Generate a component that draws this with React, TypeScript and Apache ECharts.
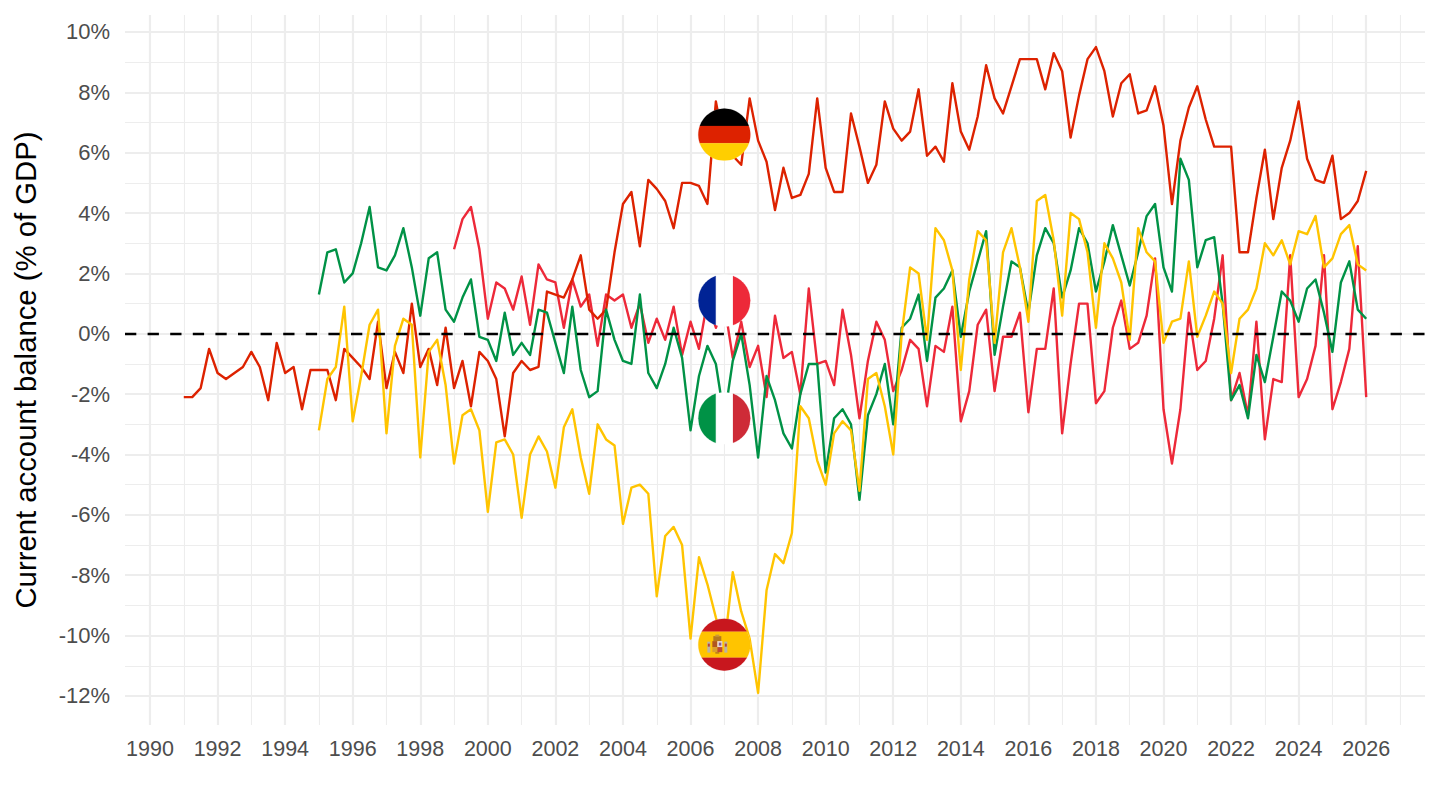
import { useRef, useEffect } from 'react'
import * as echarts from 'echarts'

// quarterly readings, one row per year
const GERMANY_START = 1991
const germany = [
  -2.1, -2.1, -1.8, -0.5,
  -1.3, -1.5, -1.3, -1.1,
  -0.6, -1.1, -2.2, -0.3,
  -1.3, -1.1, -2.5, -1.2,
  -1.2, -1.2, -2.2, -0.5,
  -0.8, -1.1, -1.5, 0.4,
  -1.8, -0.6, -1.3, 1.0,
  -1.1, -0.5, -1.7, 0.2,
  -1.8, -0.9, -2.4, -0.6,
  -0.9, -1.5, -3.4, -1.3,
  -0.9, -1.2, -1.1, 1.4,
  1.3, 1.2, 1.8, 2.6,
  0.8, 0.5, 0.8, 2.7,
  4.3, 4.7, 2.9, 5.1,
  4.8, 4.4, 3.5, 5.0,
  5.0, 4.9, 4.3, 7.7,
  6.2, 5.9, 5.6, 7.8,
  6.4, 5.7, 4.1, 5.5,
  4.5, 4.6, 5.3, 7.8,
  5.5, 4.7, 4.7, 7.3,
  6.2, 5.0, 5.6, 7.7,
  6.8, 6.4, 6.7, 8.1,
  5.9, 6.2, 5.7, 8.3,
  6.7, 6.1, 7.2, 8.9,
  7.8, 7.3, 8.2, 9.1,
  9.1, 9.1, 8.1, 9.3,
  8.7, 6.5, 7.9, 9.1,
  9.5, 8.7, 7.2, 8.3,
  8.6, 7.3, 7.4, 8.2,
  6.9, 4.3, 6.4, 7.5,
  8.2, 7.1, 6.2, 6.2,
  6.2, 2.7, 2.7, 4.5,
  6.1, 3.8, 5.5, 6.4,
  7.7, 5.8, 5.1, 5.0,
  5.9, 3.8, 4.0, 4.4,
  5.4,
]

const ITALY_START = 1995
const italy = [
  1.3, 2.7, 2.8, 1.7,
  2.0, 3.0, 4.2, 2.2,
  2.1, 2.6, 3.5, 2.2,
  0.6, 2.5, 2.7, 0.8,
  0.4, 1.2, 1.8, -0.1,
  -0.2, -0.9, 0.7, -0.7,
  -0.3, -0.7, 0.8, 0.7,
  -0.3, -1.3, 0.9, -1.2,
  -2.1, -1.9, 0.8, -0.2,
  -0.9, -1.0, 1.3, -1.3,
  -1.8, -1.0, 0.2, -0.8,
  -3.2, -1.4, -0.4, -1.0,
  -2.8, -0.9, 0.0, -1.7,
  -4.1, -1.4, -2.2, -3.3,
  -3.8, -2.0, -1.0, -1.0,
  -4.6, -2.8, -2.5, -3.0,
  -5.5, -2.7, -2.0, -1.0,
  -3.0, 0.2, 0.5, 1.3,
  -0.9, 1.2, 1.5, 2.1,
  -0.1, 1.4, 2.4, 3.4,
  -0.7, 0.9, 2.4, 2.2,
  0.7, 2.6, 3.5, 3.0,
  1.2, 2.1, 3.5, 3.0,
  1.4, 2.4, 3.6, 2.6,
  1.6, 2.7, 3.9, 4.3,
  2.2, 1.4, 5.8, 5.1,
  2.2, 3.1, 3.2, 1.0,
  -2.2, -1.7, -2.8, -0.7,
  -1.6, -0.1, 1.4, 1.1,
  0.4, 1.5, 1.8, 0.7,
  -0.6, 1.7, 2.4, 0.8,
  0.5,
]

const SPAIN_START = 1995
const spain = [
  -3.2, -1.5, -1.1, 0.9,
  -2.9, -1.4, 0.3, 0.8,
  -3.3, -0.4, 0.5, 0.3,
  -4.1, -0.6, -0.2, -1.7,
  -4.3, -2.7, -2.5, -3.2,
  -5.9, -3.6, -3.5, -4.0,
  -6.1, -4.0, -3.4, -3.9,
  -5.1, -3.1, -2.5, -4.1,
  -5.3, -3.0, -3.5, -3.7,
  -6.3, -5.1, -5.0, -5.3,
  -8.7, -6.7, -6.4, -7.0,
  -10.1, -7.4, -8.3, -9.4,
  -10.4, -7.9, -9.2, -10.1,
  -11.9, -8.5, -7.3, -7.6,
  -6.6, -2.4, -2.8, -4.2,
  -5.0, -3.3, -2.9, -3.2,
  -5.2, -1.5, -1.3, -2.4,
  -4.0, 0.0, 2.2, 2.0,
  -0.2, 3.5, 3.1, 2.1,
  -1.2, 1.8, 3.4, 3.1,
  -0.3, 2.7, 3.5, 2.2,
  0.4, 4.4, 4.6, 3.1,
  0.6, 4.0, 3.8, 2.7,
  0.2, 3.0, 2.5, 1.7,
  -0.2, 3.5, 2.7, 2.4,
  -0.3, 0.4, 0.5, 2.4,
  -0.1, 0.6, 1.4, 1.0,
  -1.3, 0.5, 0.8, 1.5,
  3.0, 2.6, 3.1, 2.3,
  3.4, 3.3, 3.9, 2.2,
  2.5, 3.3, 3.6, 2.3,
  2.1,
]

const FRANCE_START = 1999
const france = [
  2.8, 3.8, 4.2, 2.8,
  0.5, 1.7, 1.5, 0.8,
  1.9, 0.3, 2.3, 1.8,
  1.7, 0.2, 1.8, 0.9,
  1.3, -0.4, 1.3, 1.1,
  1.3, 0.2, 1.0, -0.3,
  0.5, -0.2, 0.9, -0.7,
  0.4, -0.5, 1.1, 0.2,
  1.0, -0.8, 0.4, -1.1,
  -0.4, -2.1, 0.6, -0.8,
  -0.6, -2.0, 1.5, -1.0,
  -0.9, -1.7, 0.8, -0.7,
  -2.8, -0.9, 0.4, -0.2,
  -1.9, -1.2, -0.2, -0.5,
  -2.4, -0.4, -0.6, 0.9,
  -2.9, -1.9, 0.3, 0.8,
  -1.9, -0.1, -0.1, 0.7,
  -2.6, -0.5, -0.5, 1.5,
  -3.3, -1.0, 1.0, 1.0,
  -2.3, -1.9, 0.2, 1.1,
  -0.5, -0.3, 0.6, 2.5,
  -2.5, -4.3, -2.5, 0.7,
  -1.2, -0.9, 0.5, 2.6,
  -2.2, -1.3, -2.7, 0.4,
  -3.5, -1.5, -1.6, 2.6,
  -2.1, -1.5, -0.4, 2.6,
  -2.5, -1.6, -0.5, 2.9,
  -2.1,
]

const yearTicks = [1990, 1992, 1994, 1996, 1998, 2000, 2002, 2004, 2006, 2008, 2010, 2012, 2014, 2016, 2018, 2020, 2022, 2024, 2026]
const yearMinor = [1991, 1993, 1995, 1997, 1999, 2001, 2003, 2005, 2007, 2009, 2011, 2013, 2015, 2017, 2019, 2021, 2023, 2025, 2027]
const pctTicks = [-12, -10, -8, -6, -4, -2, 0, 2, 4, 6, 8, 10]
const pctMinor = [-11, -9, -7, -5, -3, -1, 1, 3, 5, 7, 9]

const flagNames = ['germany', 'france', 'italy', 'spain']
const flagYear = 2007
const flagValues = [6.6, 1.1, -2.8, -10.3]

const FONT = '"Liberation Sans", Arial, sans-serif'
const GRID_COLOR = '#EDEDED'
const FLAG_R = 26

const toPoints = (start: number, values: number[]) =>
  values.map((v, i) => [start + i / 4, v])

// a slice of the flag disc between two offsets, as a polygon
function band(a: number, b: number, vertical = false) {
  const r = FLAG_R
  const pts: number[][] = []
  const steps = 24
  for (let i = 0; i <= steps; i++) {
    const t = a + ((b - a) * i) / steps
    pts.push([-Math.sqrt(Math.max(r * r - t * t, 0)), t])
  }
  for (let i = steps; i >= 0; i--) {
    const t = a + ((b - a) * i) / steps
    pts.push([Math.sqrt(Math.max(r * r - t * t, 0)), t])
  }
  return vertical ? pts.map(([x, y]) => [y, x]) : pts
}

const poly = (points: number[][], fill: string) => ({
  type: 'polygon',
  shape: { points },
  style: { fill, stroke: fill, lineWidth: 0.2 },
})

const box = (x: number, y: number, width: number, height: number, fill: string) => ({
  type: 'rect',
  shape: { x, y, width, height },
  style: { fill },
})

function flagShapes(name: string) {
  const r = FLAG_R
  const third = r / 3
  if (name === 'germany') {
    return [
      poly(band(-r, -third), '#000000'),
      poly(band(-third, third), '#DD2200'),
      poly(band(third, r), '#FFCE00'),
    ]
  }
  if (name === 'france') {
    return [
      poly(band(-r, -third, true), '#002395'),
      poly(band(third, r, true), '#ED2939'),
    ]
  }
  if (name === 'italy') {
    return [
      poly(band(-r, -third, true), '#009246'),
      poly(band(third, r, true), '#CE2B37'),
    ]
  }
  // spain, with a small coat of arms left of centre
  return [
    poly(band(-r, -r / 2), '#C8171E'),
    poly(band(-r / 2, r / 2), '#FFC400'),
    poly(band(r / 2, r), '#C8171E'),
    // pillars
    box(-17, -3, 3, 11, '#B9B4A8'),
    box(0, -3, 3, 11, '#B9B4A8'),
    box(-16.5, -1, 2, 3, '#B8433A'),
    box(0.5, -1, 2, 3, '#B8433A'),
    // crown
    box(-11, -8.5, 8, 5, '#B5791E'),
    box(-9, -10, 4, 2, '#C9973A'),
    // shield
    box(-12, -3.5, 5, 6, '#B0561F'),
    box(-7, -3.5, 5, 6, '#E6D6DC'),
    box(-5.5, -2, 2.5, 3, '#8E5C8E'),
    box(-12, 2.5, 5, 5, '#D9A02E'),
    box(-7, 2.5, 5, 5, '#BE4A32'),
    box(-9, 7.5, 4, 1.5, '#B5791E'),
  ]
}

const gridLines = (axis: 'xAxis' | 'yAxis', values: number[], width: number, name: string) => ({
  name,
  type: 'line',
  data: [],
  z: 1,
  silent: true,
  markLine: {
    z: 1,
    silent: true,
    animation: false,
    symbol: 'none',
    label: { show: false },
    lineStyle: { color: GRID_COLOR, width, type: 'solid' },
    data: values.map((v) => ({ [axis]: v })),
  },
})

const country = (name: string, start: number, values: number[], color: string, z: number) => ({
  name,
  type: 'line',
  data: toPoints(start, values),
  symbol: 'none',
  z,
  lineStyle: { color, width: 2.4, join: 'round' },
  itemStyle: { color },
})

export default function App() {
  const chartRef = useRef<HTMLDivElement>(null)

  useEffect(() => {
    if (!chartRef.current) return
    const chart = echarts.init(chartRef.current, undefined, { renderer: 'svg' })

    const option = {
      animation: false,
      backgroundColor: '#ffffff',
      grid: { left: 125, right: 15, top: 15, bottom: 85, outerBoundsMode: 'none' },
      xAxis: {
        type: 'value',
        min: 1989.26,
        max: 2027.74,
        splitLine: { show: false },
        axisLine: { show: false },
        axisTick: { show: false },
        axisLabel: {
          customValues: yearTicks,
          formatter: (v: number) => String(v),
          fontFamily: FONT,
          fontSize: 21.5,
          color: '#4D4D4D',
          margin: 13,
        },
      },
      yAxis: {
        type: 'value',
        min: -12.963,
        max: 10.563,
        name: 'Current account balance (% of GDP)',
        nameLocation: 'middle',
        nameRotate: 90,
        nameGap: 85,
        nameTextStyle: { fontFamily: FONT, fontSize: 29.3, color: '#000000' },
        splitLine: { show: false },
        axisLine: { show: false },
        axisTick: { show: false },
        axisLabel: {
          customValues: pctTicks,
          formatter: (v: number) => `${v}%`,
          fontFamily: FONT,
          fontSize: 22,
          color: '#4D4D4D',
          margin: 15,
          padding: [3, 0, 0, 0],
        },
      },
      series: [
        gridLines('xAxis', yearMinor, 1.1, 'year minor'),
        gridLines('yAxis', pctMinor, 1.1, 'pct minor'),
        gridLines('xAxis', yearTicks, 2.2, 'year major'),
        gridLines('yAxis', pctTicks, 2.2, 'pct major'),
        country('France', FRANCE_START, france, '#ED2939', 10),
        country('Germany', GERMANY_START, germany, '#DD2200', 11),
        country('Italy', ITALY_START, italy, '#009246', 12),
        country('Spain', SPAIN_START, spain, '#FFC400', 13),
        {
          name: 'zero',
          type: 'line',
          data: [],
          z: 20,
          silent: true,
          markLine: {
            z: 20,
            silent: true,
            animation: false,
            symbol: 'none',
            label: { show: false },
            lineStyle: { color: '#000000', width: 2.4, type: [11.3, 11.3] },
            data: [{ yAxis: 0 }],
          },
        },
        {
          name: 'flags',
          type: 'custom',
          z: 30,
          silent: true,
          data: flagValues.map((v) => [flagYear, v]),
          encode: { x: 0, y: 1 },
          renderItem: (params: any, api: any) => {
            const [cx, cy] = api.coord([api.value(0), api.value(1)])
            return {
              type: 'group',
              x: cx,
              y: cy,
              children: [
                {
                  type: 'circle',
                  shape: { cx: 0, cy: 0, r: FLAG_R },
                  style: { fill: '#ffffff' },
                },
                ...flagShapes(flagNames[params.dataIndex]),
              ],
            }
          },
        },
      ],
    }

    chart.setOption(option as echarts.EChartsOption)
    return () => chart.dispose()
  }, [])

  return (
    <div
      ref={chartRef}
      style={{ position: 'absolute', left: 0, top: 0, width: 1440, height: 810 }}
    />
  )
}
